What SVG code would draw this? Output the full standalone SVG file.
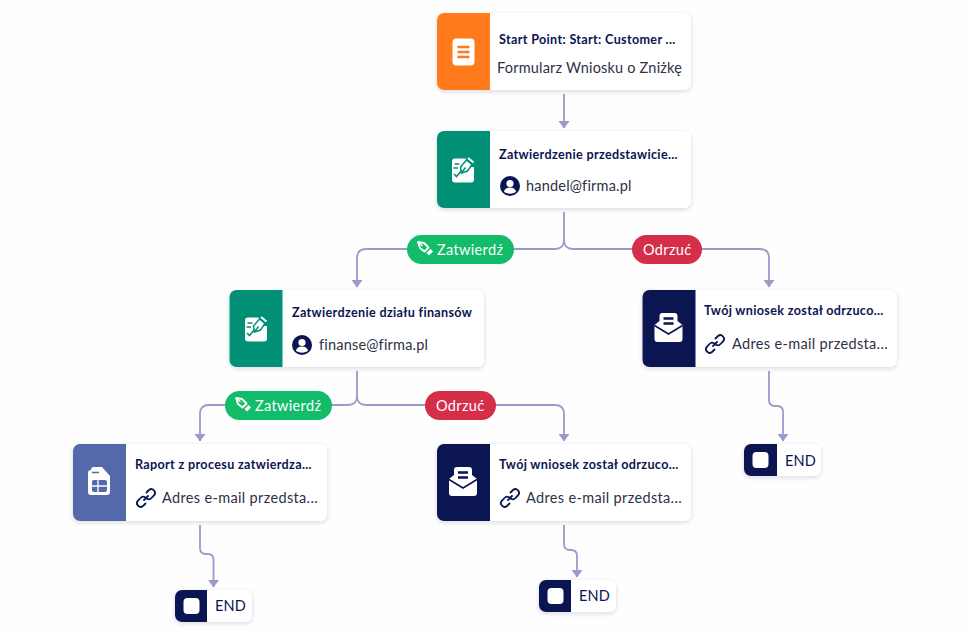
<svg xmlns="http://www.w3.org/2000/svg" width="968" height="633" viewBox="0 0 968 633">
<style>
text{font-family:"Lato","Noto Sans",sans-serif}
.t{font-size:12.6px;font-weight:700;fill:#0a1551;letter-spacing:.33px}
.s{font-size:14.5px;fill:#2b3245;letter-spacing:.2px}
.a{letter-spacing:.34px}
.e{font-size:14.5px;fill:#0a1551;letter-spacing:.2px}
.b{font-size:14.5px;fill:#fff;letter-spacing:.35px}
.card{fill:#fff;filter:url(#sh)}
.w{fill:#fff}
.c{fill:none;stroke:#9a9bcb;stroke-width:1.8}
.l{fill:none;stroke:#0a1551;stroke-width:1.8;stroke-linecap:round}
</style>
<defs>
<filter id="sh" x="-10%" y="-20%" width="120%" height="145%"><feDropShadow dx="0" dy="1.5" stdDeviation="2.2" flood-color="#2b3245" flood-opacity=".17"/></filter>
<marker id="a" markerUnits="userSpaceOnUse" markerWidth="8" markerHeight="11" refX="7" refY="5.5" orient="auto" viewBox="0 0 8 11"><path d="M0 0 7.500 5.500 0 11Z" fill="#9a9bcb"/></marker>
<g id="approve"><rect x="-9.500" y="-10.500" width="22" height="24" rx="3" class="w"/><path d="M3 -12.500 14.500 -12.500 14.500 -2 8 -2Z" fill="#018f75"/><path d="M-7 -5h5M-8 -1h4.500M-7.500 5l2.500 2.500 5 -6" fill="none" stroke="#018f75" stroke-width="1.700"/><path d="M0 4-1 -2 5 -9 10.500 -4.500 6 2Z" fill="#fff" stroke="#018f75" stroke-width="1.500"/><path d="M0 4 4 -1.500" stroke="#018f75" stroke-width="1.500"/><path d="M6.500 -11 12 -6.500" stroke="#fff" stroke-width="2"/></g>
<g id="mail"><path d="M-14 -4 -9 -8V-13a3 3 0 0 1 3-3H6a3 3 0 0 1 3 3V-8L14 -4V10a3 3 0 0 1-3 3H-11a3 3 0 0 1-3-3Z" class="w"/><path d="M-14 -3.500 0 5 14 -3.500" fill="none" stroke="#0a1551" stroke-width="1.600"/><path d="M-5 -10.500H5M-5 -5.500H5" stroke="#0a1551" stroke-width="2.400"/></g>
<g id="link"><path class="l" d="M-2 2 2 -2M.5 -5.500 3 -8a3.700 3.700 0 0 1 5.200 5.200L5.500 0a3.700 3.700 0 0 1-4.500 .8M-.5 5.500-3 8a3.700 3.700 0 0 1-5.200-5.200L-5.500 0a3.700 3.700 0 0 1 4.500 -.8"/></g>
<g id="user"><circle r="10" fill="#0a1551"/><circle cy="-2.500" r="3.600" class="w"/><path d="M-6 6a6 4.500 0 0 1 12 0q-6 3.500-12 0Z" class="w"/></g>
<g id="pen"><path d="M-7.500 -7 -1.500 -6 3 -1.500 -1 2.500-5.500 -1Z" fill="none" stroke="#fff" stroke-width="1.800" stroke-linejoin="round"/><path d="M-7 -6.500 -3 -3" stroke="#fff" stroke-width="1.200"/><path d="M1 4 5 0 7.500 2.500 3.500 6.500Z" fill="#fff"/></g>
</defs>
<rect width="968" height="633" fill="#fefefe"/>
<g id="connectors">
<path class="c" marker-end="url(#a)" d="M564 94V128"/>
<path class="c" marker-end="url(#a)" d="M564 212V240Q564 249 555 249H366Q357 249 357 258V287"/>
<path class="c" marker-end="url(#a)" d="M564 240Q564 249 573 249H760Q769 249 769 258V287"/>
<path class="c" marker-end="url(#a)" d="M357 371V396Q357 405 348 405H209Q200 405 200 414V441"/>
<path class="c" marker-end="url(#a)" d="M357 396Q357 405 366 405H555Q564 405 564 414V441"/>
<path class="c" marker-end="url(#a)" d="M200 525V548Q200 554 206 554H208Q213.500 554 213.500 560V587"/>
<path class="c" marker-end="url(#a)" d="M564 525V544Q564 550 570 550H571Q577 550 577 556V577"/>
<path class="c" marker-end="url(#a)" d="M769 371V400Q769 406 775 406H777Q783 406 783 412V441"/>
</g>
<g id="n-start"><rect class="card" x="437" y="13" width="254" height="77" rx="7"/><path d="M490 13H444a7 7 0 0 0-7 7V83a7 7 0 0 0 7 7H490Z" fill="#ff7b1c"/><rect x="452.500" y="38.500" width="22" height="27" rx="4" fill="#fff"/><path d="M457.500 47H469.500M457.500 52H469.500M457.500 57H469.500" stroke="#ff7b1c" stroke-width="2.600"/><text class="t" x="499" y="44">Start Point: Start: Customer ...</text><text class="s" x="497" y="73">Formularz Wniosku o Zniżkę</text></g>
<g id="n-sales"><rect class="card" x="437" y="131" width="254" height="77" rx="7"/><path d="M490 131H444a7 7 0 0 0-7 7V201a7 7 0 0 0 7 7H490Z" fill="#018f75"/><use href="#approve" x="461.500" y="169"/><text class="t" x="499" y="159">Zatwierdzenie przedstawicie...</text><use href="#user" x="510" y="186"/><text class="s" x="526" y="191">handel@firma.pl</text></g>
<g id="n-finance"><rect class="card" x="229.500" y="290" width="254.500" height="77" rx="7"/><path d="M282.500 290H236.500a7 7 0 0 0-7 7V360a7 7 0 0 0 7 7H282.500Z" fill="#018f75"/><use href="#approve" x="254.500" y="328"/><text class="t" x="292" y="317">Zatwierdzenie działu finansów</text><use href="#user" x="302" y="345"/><text class="s" x="319" y="350">finanse@firma.pl</text></g>
<g id="n-reject1"><rect class="card" x="642.500" y="290" width="254.500" height="77" rx="7"/><path d="M695.500 290H649.500a7 7 0 0 0-7 7V360a7 7 0 0 0 7 7H695.500Z" fill="#0a1551"/><use href="#mail" x="668.500" y="329"/><text class="t" x="704" y="315">Twój wniosek został odrzuco...</text><use href="#link" x="715" y="344"/><text class="s a" x="732" y="349">Adres e-mail przedsta...</text></g>
<g id="n-report"><rect class="card" x="73" y="444" width="254" height="77" rx="7"/><path d="M126 444H80a7 7 0 0 0-7 7V514a7 7 0 0 0 7 7H126Z" fill="#5369ac"/><path d="M91 470a3 3 0 0 1 3-3H102L110 476V492a3 3 0 0 1-3 3H91a3 3 0 0 1-3-3V473a3 3 0 0 1 3-3Z" fill="#fff"/><path d="M92 472.500H99" stroke="#5369ac" stroke-width="1.500"/><rect x="92" y="480" width="15" height="12" rx="2" fill="#5369ac"/><path d="M92 486H107M98 480V492" stroke="#fff" stroke-width="1.300"/><text class="t" x="135" y="469">Raport z procesu zatwierdza...</text><use href="#link" x="146" y="498"/><text class="s a" x="162" y="503">Adres e-mail przedsta...</text></g>
<g id="n-reject2"><rect class="card" x="437" y="444" width="254" height="77" rx="7"/><path d="M490 444H444a7 7 0 0 0-7 7V514a7 7 0 0 0 7 7H490Z" fill="#0a1551"/><use href="#mail" x="463" y="483"/><text class="t" x="499" y="469">Twój wniosek został odrzuco...</text><use href="#link" x="510" y="498"/><text class="s a" x="526" y="503">Adres e-mail przedsta...</text></g>
<g id="b-approve1"><rect x="407" y="235" width="107" height="29" rx="14.500" fill="#12bc69"/><use href="#pen" x="425.500" y="249"/><text class="b" x="437" y="255">Zatwierdź</text></g>
<g id="b-reject1"><rect x="632" y="235" width="70" height="29" rx="14.500" fill="#d42e48"/><text class="b" x="643" y="255">Odrzuć</text></g>
<g id="b-approve2"><rect x="225" y="391" width="107" height="29" rx="14.500" fill="#12bc69"/><use href="#pen" x="243.500" y="405"/><text class="b" x="255" y="411">Zatwierdź</text></g>
<g id="b-reject2"><rect x="425" y="391" width="71" height="29" rx="14.500" fill="#d42e48"/><text class="b" x="436" y="411">Odrzuć</text></g>
<g id="end1"><rect class="card" x="744" y="444" width="77" height="32" rx="7"/><path d="M777 444H751a7 7 0 0 0-7 7V469a7 7 0 0 0 7 7H777Z" fill="#0a1551"/><rect x="752.500" y="452" width="16" height="16" rx="4" fill="#fff"/><text class="e" x="785" y="466">END</text></g>
<g id="end2"><rect class="card" x="175" y="590" width="77" height="32" rx="7"/><path d="M207 590H182a7 7 0 0 0-7 7V615a7 7 0 0 0 7 7H207Z" fill="#0a1551"/><rect x="183.500" y="598" width="16" height="16" rx="4" fill="#fff"/><text class="e" x="215" y="611">END</text></g>
<g id="end3"><rect class="card" x="539" y="580" width="77" height="32" rx="7"/><path d="M571 580H546a7 7 0 0 0-7 7V605a7 7 0 0 0 7 7H571Z" fill="#0a1551"/><rect x="547.500" y="588" width="16" height="16" rx="4" fill="#fff"/><text class="e" x="579" y="601">END</text></g>
</svg>
